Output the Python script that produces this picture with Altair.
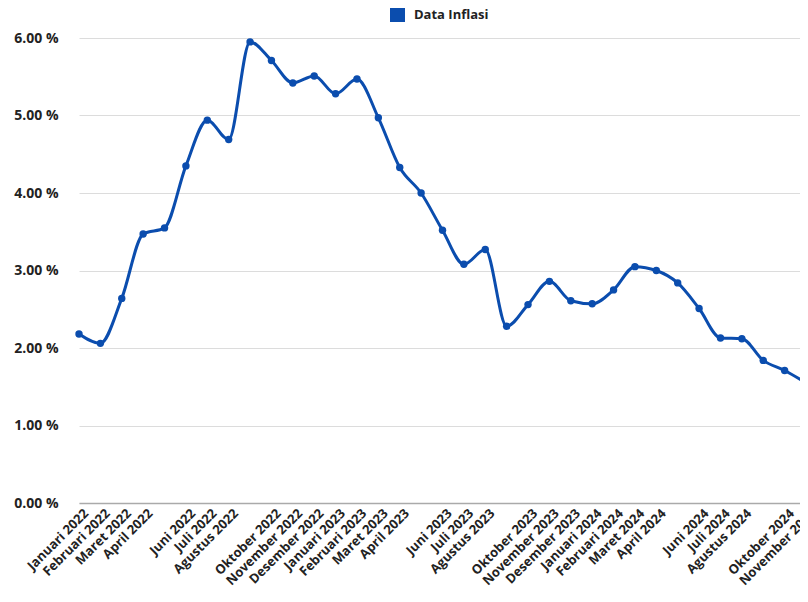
import altair as alt
import pandas as pd

months = [
    "Januari 2022", "Februari 2022", "Maret 2022", "April 2022", "Mei 2022", "Juni 2022",
    "Juli 2022", "Agustus 2022", "September 2022", "Oktober 2022", "November 2022", "Desember 2022",
    "Januari 2023", "Februari 2023", "Maret 2023", "April 2023", "Mei 2023", "Juni 2023",
    "Juli 2023", "Agustus 2023", "September 2023", "Oktober 2023", "November 2023", "Desember 2023",
    "Januari 2024", "Februari 2024", "Maret 2024", "April 2024", "Mei 2024", "Juni 2024",
    "Juli 2024", "Agustus 2024", "September 2024", "Oktober 2024", "November 2024",
]
inflasi = [
    2.18, 2.06, 2.64, 3.47, 3.55, 4.35, 4.94, 4.69, 5.95, 5.71, 5.42, 5.51,
    5.28, 5.47, 4.97, 4.33, 4.00, 3.52, 3.08, 3.27, 2.28, 2.56, 2.86, 2.61,
    2.57, 2.75, 3.05, 3.00, 2.84, 2.51, 2.13, 2.12, 1.84, 1.71, 1.55,
]
# tick labels shown on the axis (Mei and September are not labelled)
shown_labels = [m if not (m.startswith("Mei") or m.startswith("September")) else "" for m in months]
y_ticks = [0, 1, 2, 3, 4, 5, 6]

BLUE = "#0b4dae"
FONT = "Open Sans"

df = pd.DataFrame({"i": list(range(len(months))), "bulan": months, "nilai": inflasi,
                   "series": ["Data Inflasi"] * len(months)})

tick_idx = [i for i, l in enumerate(shown_labels) if l]
label_js = "[" + ",".join("'" + l + "'" for l in shown_labels) + "]"

x_enc = alt.X(
    "i:Q",
    scale=alt.Scale(domain=[0, len(months) - 1], range=[9, 736], nice=False, zero=False),
    axis=alt.Axis(
        title=None, values=tick_idx, labelExpr=label_js + "[datum.value]",
        labelAngle=-45, labelAlign="right", labelBaseline="middle", labelOffset=7,
        labelPadding=8, labelFont=FONT, labelFontSize=13, labelFontWeight=700,
        labelColor="#222", labelOverlap=False, labelBound=False, labelFlush=False,
        ticks=False, grid=False, domain=True, domainColor="#aaaaaa", domainWidth=1.5,
    ),
)
y_enc = alt.Y(
    "nilai:Q",
    scale=alt.Scale(domain=[0, 6], nice=False),
    axis=alt.Axis(
        title=None, values=y_ticks, labelExpr="format(datum.value, '.2f') + ' %'",
        labelFont=FONT, labelFontSize=14, labelFontWeight=700, labelColor="#222",
        labelPadding=12, ticks=False, domain=False, grid=True, gridColor="#dcdcdc",
        gridWidth=1,
    ),
)

color_enc = alt.Color(
    "series:N",
    scale=alt.Scale(range=[BLUE]),
    legend=alt.Legend(
        title=None, orient="none", legendX=320, legendY=-31, symbolType="square",
        symbolSize=225, symbolFillColor=BLUE, symbolStrokeColor=BLUE, symbolStrokeWidth=0,
        labelFont=FONT, labelFontSize=13, labelFontWeight=700, labelColor="#222",
        labelOffset=9,
    ),
)

line = alt.Chart(df).mark_line(interpolate="monotone", strokeWidth=3, clip=False).encode(
    x=x_enc, y=y_enc, color=color_enc
)
points = alt.Chart(df).mark_point(filled=True, size=55, opacity=1, clip=False).encode(
    x=x_enc, y=y_enc, color=alt.Color("series:N", scale=alt.Scale(range=[BLUE]), legend=None)
)

chart = (
    alt.layer(line, points)
    .properties(
        width=730, height=465,
        autosize=alt.AutoSizeParams(type="none"),
        padding={"left": 62, "top": 30, "right": 0, "bottom": 91},
        background="white",
    )
    .configure_view(stroke=None)
)

chart.save("out.html", embed_options={"renderer": "svg", "actions": False})
